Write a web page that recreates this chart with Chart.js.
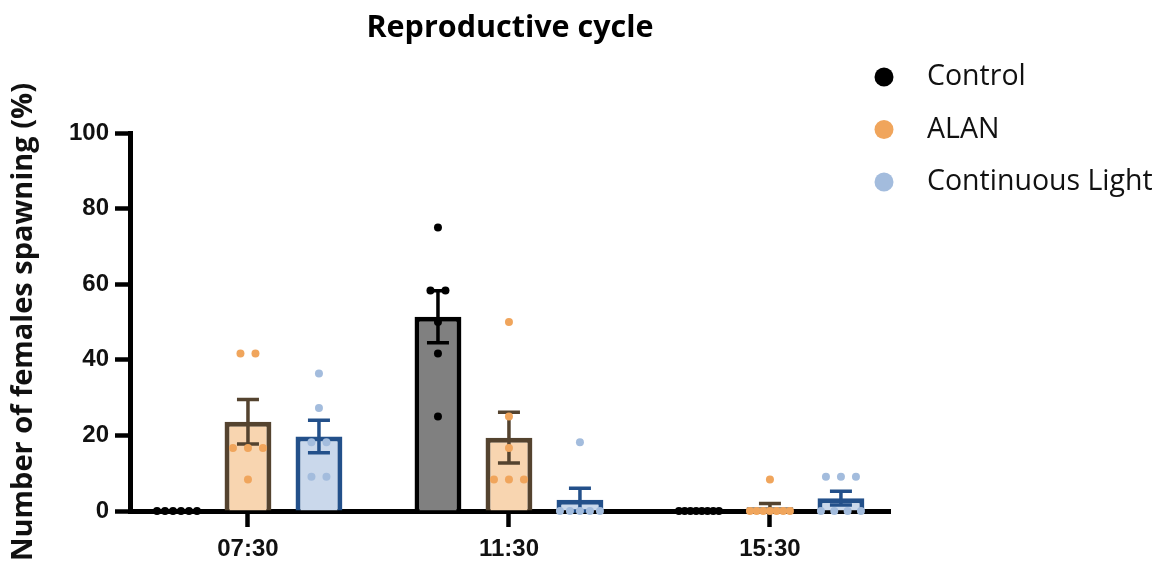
<!DOCTYPE html>
<html>
<head>
<meta charset="utf-8">
<script src="https://cdn.jsdelivr.net/npm/chart.js@4/dist/chart.umd.min.js"></script>
<style>
  html, body { margin: 0; padding: 0; background: #fff; }
  #wrap { width: 1163px; height: 574px; }
</style>
</head>
<body>
<div id="wrap"><canvas id="chart1" width="1163" height="574"></canvas></div>
<script>
const times = ['07:30', '11:30', '15:30'];

// group means and standard errors (%)
const controlMean = [0, 51.4, 0];
const controlSem = [0, 6.9, 0];
const alanMean = [23.6, 19.4, 1.0];
const alanSem = [5.9, 6.7, 1.0];
const lightMean = [19.7, 3.0, 3.4];
const lightSem = [4.3, 3.0, 1.8];

// individual replicates (%)
const controlPts = [[0, 0, 0, 0, 0, 0], [75, 58.33, 58.33, 50, 41.67, 25], [0, 0, 0, 0, 0, 0, 0, 0]];
const alanPts = [[41.67, 41.67, 16.67, 16.67, 16.67, 8.33], [50, 25, 16.67, 8.33, 8.33, 8.33], [8.33, 0, 0, 0, 0, 0, 0, 0]];
const lightPts = [[36.36, 27.27, 18.18, 18.18, 9.09, 9.09], [18.18, 0, 0, 0, 0, 0], [9.09, 9.09, 9.09, 0, 0, 0, 0]];

const xMin = -0.452;
const xMax = 2.46;
const groupPct = 0.816;
const pxPerUnit = 760 / (xMax - xMin);

const series = [
  { label: 'Control', mean: controlMean, sem: controlSem, pts: controlPts, fill: '#808080', edge: '#000000', dot: '#000000', shift: -1 },
  { label: 'ALAN', mean: alanMean, sem: alanSem, pts: alanPts, fill: '#F8D5B0', edge: '#54432F', dot: '#F0A55C', shift: 0 },
  { label: 'Continuous Light', mean: lightMean, sem: lightSem, pts: lightPts, fill: '#CAD8EB', edge: '#23508A', dot: '#A3BCDD', shift: 1 }
];

// spread equal values sideways like a scatter dot plot
function spread(vals, center) {
  const counts = {};
  const seen = {};
  vals.forEach(v => counts[v] = (counts[v] || 0) + 1);
  return vals.map(v => {
    const n = counts[v];
    const k = seen[v] = (seen[v] === undefined ? 0 : seen[v] + 1);
    const gap = n > 1 ? Math.min(15, 40 / (n - 1)) : 0;
    return { x: center + (k - (n - 1) / 2) * gap / pxPerUnit, y: v };
  });
}

const barSets = series.map(s => ({
  type: 'bar',
  label: s.label,
  data: times.map((t, i) => ({ x: i, y: s.mean[i] })),
  backgroundColor: s.fill,
  borderColor: s.edge,
  borderWidth: 5,
  categoryPercentage: groupPct,
  barPercentage: 0.66,
  order: 2
}));

const dotSets = series.map(s => ({
  type: 'scatter',
  label: s.label + ' dots',
  data: s.pts.flatMap((vals, i) => spread(vals, i + s.shift * groupPct / 3)),
  pointRadius: 4,
  pointBackgroundColor: s.dot,
  pointBorderWidth: 0,
  clip: false,
  order: 1
}));

const errorBars = {
  id: 'errorBars',
  afterDatasetDraw(chart, args) {
    if (args.meta.type !== 'bar') return;
    const s = series[args.index];
    const y = chart.scales.y;
    const ctx = chart.ctx;
    ctx.save();
    ctx.strokeStyle = s.edge;
    ctx.lineWidth = 3.5;
    args.meta.data.forEach((bar, i) => {
      const m = s.mean[i], e = s.sem[i];
      if (!e) return;
      const top = y.getPixelForValue(m + e);
      const bot = y.getPixelForValue(Math.max(0, m - e));
      ctx.beginPath();
      ctx.moveTo(bar.x, top); ctx.lineTo(bar.x, bot);
      ctx.moveTo(bar.x - 11, top); ctx.lineTo(bar.x + 11, top);
      ctx.moveTo(bar.x - 11, bot); ctx.lineTo(bar.x + 11, bot);
      ctx.stroke();
    });
    ctx.restore();
  }
};

// title and legend
const decor = {
  id: 'decor',
  afterDraw(chart) {
    const ctx = chart.ctx;
    const a = chart.chartArea;
    ctx.save();
    ctx.fillStyle = '#000';
    ctx.font = 'bold 30.5px "Open Sans"';
    ctx.textAlign = 'center';
    ctx.textBaseline = 'middle';
    ctx.fillText('Reproductive cycle', (a.left + a.right) / 2, 28);

    ctx.textAlign = 'left';
    ctx.font = '28.5px "Open Sans"';
    series.forEach((s, i) => {
      const y = 77 + i * 52.5;
      ctx.fillStyle = s.dot;
      ctx.beginPath();
      ctx.arc(884, y, 9.5, 0, Math.PI * 2);
      ctx.fill();
      ctx.fillStyle = '#111';
      ctx.fillText(s.label, 927, y);
    });
    ctx.restore();
  }
};

const cht1 = document.getElementById('chart1');

new Chart(cht1, {
  type: 'bar',
  data: { datasets: [...barSets, ...dotSets] },
  plugins: [errorBars, decor],
  options: {
    responsive: false,
    animation: false,
    layout: { padding: { top: 133, right: 273, bottom: 0, left: 0 } },
    plugins: {
      legend: { display: false },
      tooltip: { enabled: false }
    },
    scales: {
      x: {
        type: 'linear',
        min: xMin,
        max: xMax,
        offset: false,
        afterBuildTicks: axis => { axis.ticks = times.map((t, i) => ({ value: i })); },
        afterFit: axis => { axis.height = 63; },
        grid: { offset: false, drawOnChartArea: false, tickLength: 16, tickWidth: 4.5, tickColor: '#000' },
        border: { color: '#000', width: 5 },
        ticks: {
          callback: v => times[v],
          color: '#111',
          padding: 8,
          maxRotation: 0,
          font: { family: '"Liberation Sans"', weight: 'bold', size: 24 }
        }
      },
      y: {
        min: 0,
        max: 100,
        afterFit: axis => { axis.width = 130; },
        grid: { drawOnChartArea: false, tickLength: 15, tickWidth: 4.5, tickColor: '#000' },
        border: { color: '#000', width: 5 },
        ticks: {
          stepSize: 20,
          color: '#111',
          padding: 6,
          font: { family: '"Liberation Sans"', weight: 'bold', size: 24 }
        },
        title: {
          display: true,
          text: 'Number of females spawning (%)',
          color: '#111',
          padding: { top: 6, bottom: 0 },
          font: { family: '"Open Sans"', weight: 'bold', size: 29 }
        }
      }
    }
  }
});
</script>
</body>
</html>
